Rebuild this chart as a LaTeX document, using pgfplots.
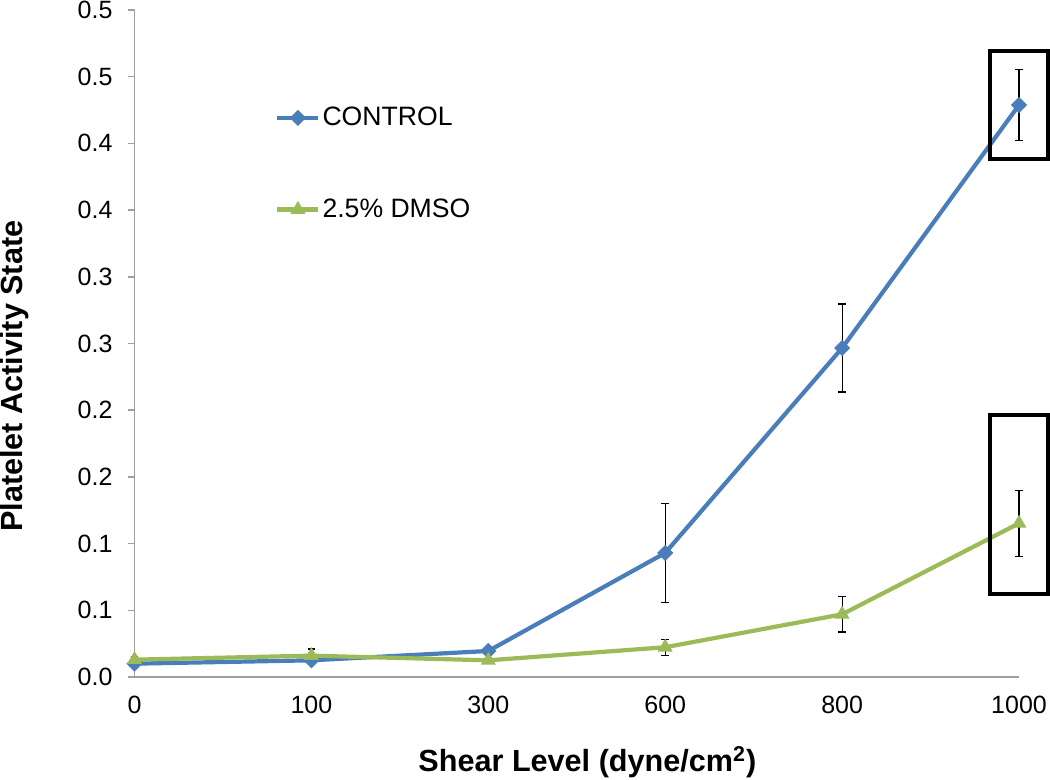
\documentclass[border=0pt]{standalone}
\usepackage{fontspec}
\setmainfont{Liberation Sans}
\usepackage{pgfplots}
\usepackage{pgfplotstable}
\pgfplotsset{compat=1.18}
\definecolor{cblue}{HTML}{4A7EBB}
\definecolor{cgreen}{HTML}{9BBB59}
\pgfplotstableread{
x y e
0 0.0100 0.002
1 0.0125 0.002
2 0.0195 0.003
3 0.0930 0.037
4 0.2466 0.033
5 0.4288 0.0265
}\control
\pgfplotstableread{
x y e
0 0.0130 0.002
1 0.0160 0.005
2 0.0125 0.002
3 0.0223 0.006
4 0.0470 0.0133
5 0.1152 0.0248
}\dmso
\begin{document}
\begin{tikzpicture}
\begin{axis}[
 scale only axis, width=442.25pt, height=333.5pt,
 xmin=0, xmax=5, ymin=0, ymax=0.5,
 clip=false,
 axis x line=bottom, axis y line=left,
 axis line style={-, draw=gray!75, line width=0.8pt},
 xtick={0,...,5}, xticklabels={0,100,300,600,800,1000},
 ytick={0,0.05,0.1,0.15,0.2,0.25,0.3,0.35,0.4,0.45,0.5},
 yticklabels={0.0,0.1,0.1,0.2,0.2,0.3,0.3,0.4,0.4,0.5,0.5},
 x tick style={draw=none},
 y tick style={draw=gray!75, line width=0.8pt},
 tick align=outside, major tick length=3.5pt,
 /pgf/number format/assume math mode=true,
 ticklabel style={font=\fontsize{12.5}{14}\selectfont},
 yticklabel style={xshift=-4pt},
 xticklabel style={yshift=-2.5pt},
 xlabel={Shear Level (dyne/cm\textsuperscript{2})},
 ylabel={Platelet Activity State},
 xlabel style={at={(axis description cs:0.512,-0.142)}, anchor=base, font=\bfseries\fontsize{15.3}{18}\selectfont},
 ylabel style={at={(axis description cs:-0.1261,0.451)}, anchor=base, font=\bfseries\fontsize{15.3}{18}\selectfont},
 legend style={at={(axis description cs:0.152,0.864)}, anchor=north west, draw=none, fill=none,
   font=\fontsize{13.3}{15}\selectfont, row sep=33pt, nodes={inner sep=1pt}},
 legend cell align=left,
 legend image code/.code={\draw[mark repeat=2,mark phase=2] plot coordinates {(0pt,0pt) (10.25pt,0pt) (20.5pt,0pt)};},
 error bars/error bar style={black, line width=0.6pt},
 error bars/error mark options={black, rotate=90, mark size=1.9pt, line width=0.6pt},
]
\addplot[cblue, line width=2.1pt, mark=square*, mark size=2.6pt, mark options={rotate=45, fill=cblue, line width=0.5pt},
  error bars/.cd, y dir=both, y explicit] table[x=x, y=y, y error=e] {\control};
\addlegendentry{CONTROL}
\addplot[cgreen, line width=2.1pt, mark=triangle*, mark size=3.8pt, mark options={fill=cgreen, line width=0.5pt},
  error bars/.cd, y dir=both, y explicit] table[x=x, y=y, y error=e] {\dmso};
\addlegendentry{2.5\% DMSO}
\draw[black, line width=2pt] (axis cs:4.837,0.3883) rectangle (axis cs:5.163,0.4693);
\draw[black, line width=2pt] (axis cs:4.837,0.0622) rectangle (axis cs:5.163,0.1964);
\end{axis}
\pgfresetboundingbox
\path[use as bounding box] ([shift={(-67.25pt,-51pt)}]current axis.south west) rectangle ([shift={(15.5pt,5pt)}]current axis.north east);
\end{tikzpicture}
\end{document}
